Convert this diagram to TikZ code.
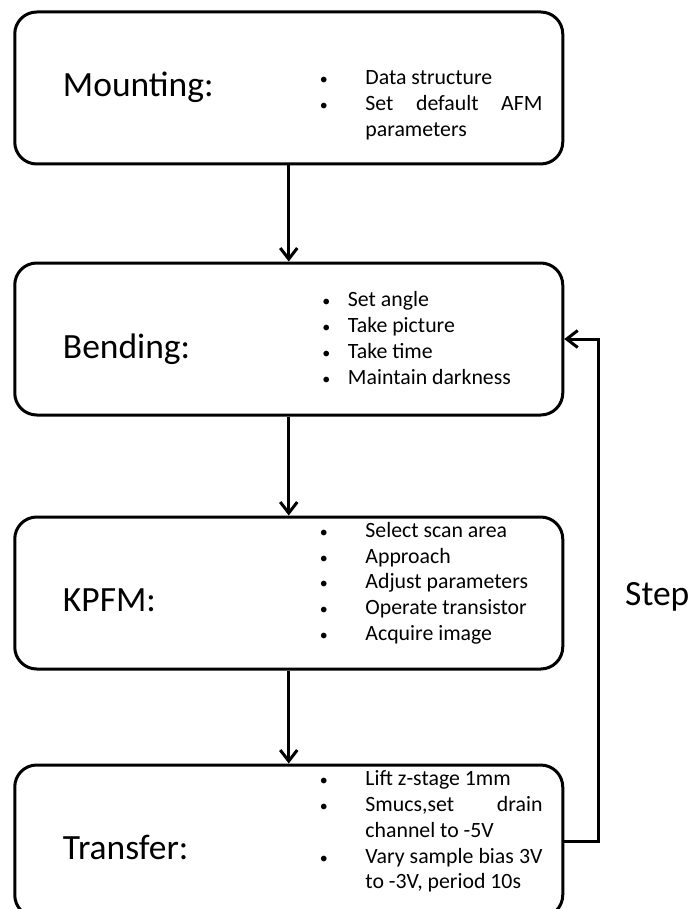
\documentclass[tikz,border=0pt]{standalone}
\usepackage{fontspec}
\setmainfont{Carlito}
\usepackage{tikz}
\usetikzlibrary{arrows.meta, positioning}

\hyphenpenalty=10000
\tolerance=10000
\hbadness=10000

% one bullet line, #1 = gap from bullet to text
\newcommand{\bpoint}[2][47pt]{\noindent\hangindent=#1\hangafter=1\makebox[#1][l]{\hspace{1.5pt}{\fontsize{16}{16}\selectfont\textbullet}}#2\par}

\begin{document}
\begin{tikzpicture}[x=1pt, y=-1pt, node distance=96pt,
  every node/.style={font=\fontsize{21.8}{25.8}\selectfont},
  stage/.style={draw, rectangle, rounded corners=22pt, line width=3pt, minimum width=548pt, minimum height=152pt, inner sep=0pt},
  title/.style={font=\fontsize{35.5}{42}\selectfont, anchor=base west, inner sep=0pt},
  items/.style={anchor=north west, inner sep=0pt, text width=224pt, align=justify},
  flow/.style={-{Straight Barb[length=11pt,width=17pt]}, line width=3pt}]
\useasboundingbox (0,0) rectangle (692,909);

\node (mount) [stage] at (288.75,88) {};
\node (bend) [stage, below=96pt of mount] {};
\node (kpfm) [stage, below=99pt of bend] {};
\node (transfer) [stage, below=93pt of kpfm] {};

\node (mounttitle) [title] at ([xshift=49.5pt, yshift=-9pt]mount.west) {Mounting:};
\node (bendtitle) [title] at ([xshift=49.5pt, yshift=-19pt]bend.west) {Bending:};
\node (kpfmtitle) [title] at ([xshift=49.5pt, yshift=-18pt]kpfm.west) {KPFM:};
\node (transfertitle) [title] at ([xshift=49.5pt, yshift=-18pt]transfer.west) {Transfer:};

\node (mountitems) [items] at ([xshift=305pt, yshift=-60pt]mount.north west) {%
  \bpoint{Data structure}
  \bpoint{Set default AFM parameters}};
\node (benditems) [items] at ([xshift=307.5pt, yshift=-30pt]bend.north west) {%
  \bpoint[27pt]{Set angle}
  \bpoint[27pt]{Take picture}
  \bpoint[27pt]{Take time}
  \bpoint[27pt]{Maintain darkness}};
\node (kpfmitems) [items] at ([xshift=305pt, yshift=-6.5pt]kpfm.north west) {%
  \bpoint{Select scan area}
  \bpoint{Approach}
  \bpoint{Adjust parameters}
  \bpoint{Operate transistor}
  \bpoint{Acquire image}};
\node (transferitems) [items] at ([xshift=305pt, yshift=-7pt]transfer.north west) {%
  \bpoint{Lift z-stage 1mm}
  \bpoint{Smucs,set drain channel to -5V}
  \bpoint{Vary sample bias 3V to -3V, period 10s}};

\node (steplabel) [title] at (625,605) {Step};

\draw[flow] (mount) -- (bend);
\draw[flow] (bend) -- (kpfm);
\draw[flow] (kpfm) -- (transfer);
\draw[flow] (transfer.east) -- ++(34,0) |- (bend.east);
\end{tikzpicture}
\end{document}
